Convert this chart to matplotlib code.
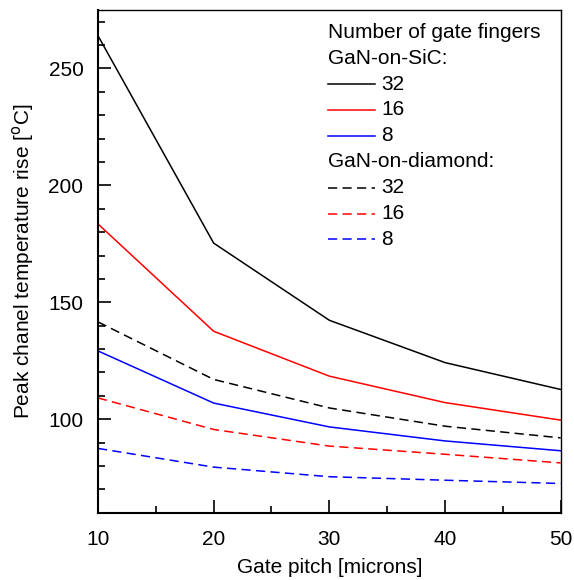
import matplotlib
matplotlib.use("Agg")
import matplotlib.pyplot as plt
from matplotlib.ticker import MultipleLocator

plt.rcParams["font.family"] = ["Liberation Sans", "DejaVu Sans"]

# ---- data ----
pitch = [10, 20, 30, 40, 50]                       # gate pitch [microns]
sic_32 = [264.0, 175.3, 142.3, 124.2, 112.7]
sic_16 = [183.5, 137.6, 118.4, 107.1, 99.6]
sic_8 = [129.2, 106.9, 96.7, 90.7, 86.5]
dia_32 = [141.6, 117.0, 104.8, 97.0, 92.0]
dia_16 = [109.1, 95.6, 88.5, 85.0, 81.3]
dia_8 = [87.5, 79.5, 75.4, 73.9, 72.5]

fingers = ["32", "16", "8"]
colors = ["black", "red", "blue"]
DASH = (0, (6, 3.5))
FS = 15

fig = plt.figure(figsize=(5.74, 5.80), dpi=100)
ax = fig.add_axes([0.1707, 0.116, 0.8061, 0.8668])

for ys, c in zip([sic_32, sic_16, sic_8], colors):
    ax.plot(pitch, ys, color=c, lw=1.1)
for ys, c in zip([dia_32, dia_16, dia_8], colors):
    ax.plot(pitch, ys, color=c, lw=1.1, linestyle=DASH)

ax.set_xlim(10, 50)
ax.set_ylim(60, 275)
ax.xaxis.set_major_locator(MultipleLocator(10))
ax.xaxis.set_minor_locator(MultipleLocator(5))
ax.yaxis.set_major_locator(MultipleLocator(50))
ax.yaxis.set_minor_locator(MultipleLocator(10))
ax.tick_params(which="both", direction="in", top=False, right=False,
               width=1.2, labelsize=FS)
ax.tick_params(which="major", length=9.5)
ax.tick_params(which="minor", length=5)
ax.tick_params(axis="y", which="major", pad=10.5)
ax.tick_params(axis="x", which="major", pad=12.5)

for side in ["left", "bottom"]:
    ax.spines[side].set_linewidth(1.5)
for side in ["top", "right"]:
    ax.spines[side].set_linewidth(1.0)

ax.set_xlabel("Gate pitch [microns]", fontsize=FS, labelpad=6.5)
ax.set_ylabel(r"Peak chanel temperature rise [$^{\mathrm{o}}$C]", fontsize=FS, labelpad=9)

# ---- legend drawn by hand (headers + keys) ----
x_txt, x_k0, x_k1, x_lab = 0.497, 0.497, 0.599, 0.612
y0, dy = 0.9556, 0.0515
rows = [("Number of gate fingers", None, None),
        ("GaN-on-SiC:", None, None)]
rows += [(f, c, "-") for f, c in zip(fingers, colors)]
rows += [("GaN-on-diamond:", None, None)]
rows += [(f, c, DASH) for f, c in zip(fingers, colors)]
for i, (lab, c, ls) in enumerate(rows):
    y = y0 - i * dy
    if c is None:
        ax.text(x_txt, y, lab, transform=ax.transAxes, fontsize=FS, va="center", ha="left")
    else:
        ax.plot([x_k0, x_k1], [y, y], transform=ax.transAxes, color=c, lw=1.1, linestyle=ls)
        ax.text(x_lab, y, lab, transform=ax.transAxes, fontsize=FS, va="center", ha="left")

fig.savefig("out.png", dpi=100)
